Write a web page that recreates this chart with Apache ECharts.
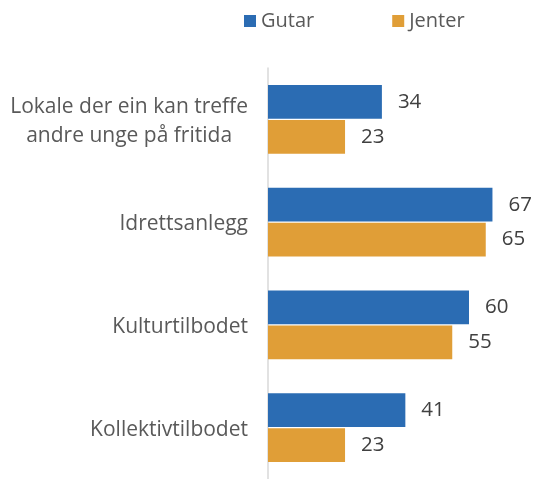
<!DOCTYPE html>
<html>
<head>
<meta charset="utf-8">
<script src="https://cdn.jsdelivr.net/npm/echarts@6/dist/echarts.min.js"></script>
<style>
  html, body { margin: 0; padding: 0; background: #fff; }
  #chart { width: 533px; height: 479px; }
</style>
</head>
<body>
<div id="chart"></div>
<script>
// Categories (top to bottom) and values per group
const categories = [
  'Lokale der ein kan treffe\nandre unge på fritida',
  'Idrettsanlegg',
  'Kulturtilbodet',
  'Kollektivtilbodet'
];
const seriesNames = ['Gutar', 'Jenter'];
const gutar = [34, 67, 60, 41];
const jenter = [23, 65, 55, 23];

const FONT = '"Open Sans", sans-serif';
const FS = 21;
const chart = echarts.init(document.getElementById('chart'));

// Multi-line labels: lines centred within the block, block right-aligned at the axis
function catLabel(v) {
  const lines = v.split('\n');
  if (lines.length === 1) return v;
  return lines.map(l => '{c|' + l + '}').join('\n');
}

chart.setOption({
  animation: false,
  legend: {
    top: 6,
    left: 239,
    itemWidth: 12,
    itemHeight: 12,
    itemGap: 78,
    icon: 'rect',
    textStyle: { fontFamily: FONT, fontSize: 20, color: '#595959' },
    data: seriesNames
  },
  grid: { left: 268, top: 68, bottom: -5, width: 234.5, containLabel: false },
  xAxis: {
    type: 'value',
    min: 0,
    max: 70,
    show: false
  },
  yAxis: {
    type: 'category',
    inverse: true,
    data: categories,
    axisLine: { show: true, lineStyle: { color: '#d9d9d9', width: 1.5 } },
    axisTick: { show: false },
    axisLabel: {
      margin: 20,
      fontFamily: FONT,
      fontSize: FS,
      color: '#595959',
      lineHeight: 29,
      padding: [4, 0, 0, 0],
      formatter: catLabel,
      rich: {
        c: { align: 'center', fontFamily: FONT, fontSize: FS, color: '#595959', lineHeight: 29 }
      }
    }
  },
  series: [
    {
      name: seriesNames[0],
      type: 'bar',
      data: gutar,
      barCategoryGap: '33%',
      barGap: '3%',
      itemStyle: { color: '#2B6CB3' },
      label: { show: true, position: 'right', distance: 16, fontFamily: FONT, fontSize: 20.5, color: '#404040' }
    },
    {
      name: seriesNames[1],
      type: 'bar',
      data: jenter,
      barCategoryGap: '33%',
      barGap: '3%',
      itemStyle: { color: '#E09E37' },
      label: { show: true, position: 'right', distance: 16, fontFamily: FONT, fontSize: 20.5, color: '#404040' }
    }
  ]
});
</script>
</body>
</html>
